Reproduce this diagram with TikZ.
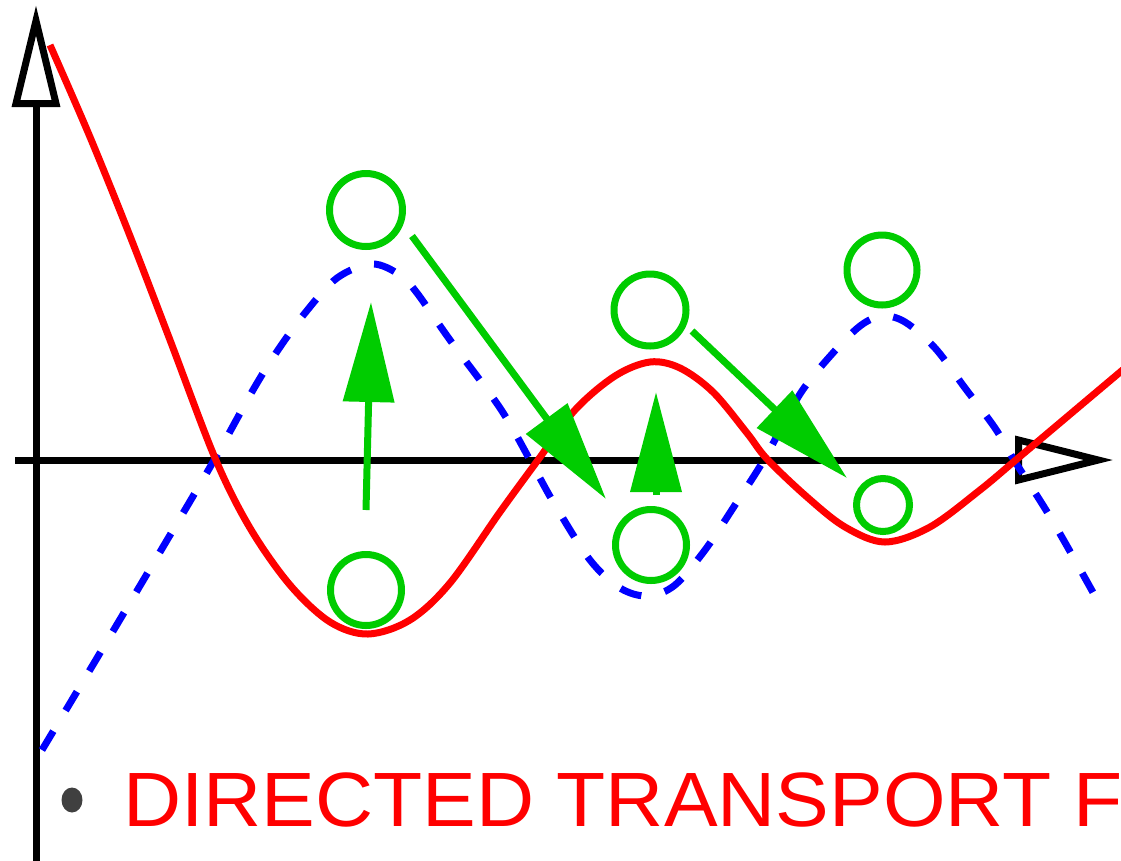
\documentclass[tikz,border=0pt]{standalone}
\usepackage{fontspec}
\usepackage{graphicx}
\setmainfont{Liberation Sans}
\usetikzlibrary{arrows.meta}
\definecolor{gr}{RGB}{0,204,0}
\definecolor{bulletgray}{RGB}{64,64,64}
\begin{document}
\begin{tikzpicture}[x=1pt,y=-1pt,
  axis/.style={line width=7pt, black},
  axhead/.style={line width=7pt, draw=black, fill=white, line join=miter},
  redcurve/.style={line width=7pt, red},
  bluecurve/.style={line width=7pt, blue, dash pattern=on 22pt off 24pt},
  ring/.style={line width=7pt, draw=gr, circle, inner sep=0pt, minimum size=#1},
  garrow/.style={line width=7pt, gr, -{Triangle[length=100pt,width=50pt]}},
  caption/.style={text=red, font=\fontsize{77}{90}\selectfont, anchor=base west, inner sep=0pt},
]
\useasboundingbox (0,0) rectangle (1121,860);
\clip (0,0) rectangle (1121,860);
\fill[white] (0,0) rectangle (1121,860);

% axes
\coordinate (ybot) at (36,870);
\coordinate (ytop) at (36,103.5);
\coordinate (xleft) at (15,460);
\coordinate (xright) at (1018.5,460);
\draw[axis] (ybot) -- (ytop);
\draw[axis] (xleft) -- (xright);
\draw[axhead] (16,103.5) -- (36,20.7) -- (56,103.5) -- cycle;
\draw[axhead] (1018.5,440) -- (1098.3,460) -- (1018.5,480) -- cycle;

% blue dashed curve
\draw[bluecurve] plot[smooth, tension=0.55] coordinates {
  (42,750) (100,653) (160,552) (213,462) (253,390) (278,350) (305,313)
  (337,278) (372,264) (400,275) (417,293) (450,340) (500,408) (530,460)
  (555,505) (590,560) (620,588) (648,596) (675,585) (705,550) (735,505)
  (765,458) (800,394) (832,354) (860,326) (882,316) (905,322) (935,348)
  (965,388) (995,428) (1014,460) (1052,520) (1100,605)};

% red curve
\draw[redcurve] plot[smooth, tension=0.55] coordinates {
  (50,45) (90,137) (130,236) (170,340) (215,458) (250,528) (290,585)
  (330,622) (368,634) (410,620) (450,583) (500,512) (538,460) (575,410)
  (615,376) (650,362) (680,368) (713,392) (747,433) (767,459) (807,497)
  (845,527) (885,542) (930,527) (980,490) (1017,459) (1087,400) (1125,368)};

% green rings
\node[ring=73] (c1) at (366,210) {};
\node[ring=71] (c2) at (366,590) {};
\node[ring=72] (c3) at (650,310) {};
\node[ring=71] (c4) at (651,545) {};
\node[ring=70] (c5) at (882,270) {};
\node[ring=53] (c6) at (883,505) {};

% green arrows
\coordinate (a1s) at (366,510);
\coordinate (a1e) at (371,302);
\coordinate (a2s) at (412,236);
\coordinate (a2e) at (606,499);
\coordinate (a3s) at (656,495);
\coordinate (a3e) at (656,392);
\coordinate (a4s) at (692,331);
\coordinate (a4e) at (847,478);
\draw[garrow] (a1s) -- (a1e);
\draw[garrow] (a2s) -- (a2e);
\draw[garrow] (a3s) -- (a3e);
\draw[garrow] (a4s) -- (a4e);

% bullet and caption
\fill[bulletgray] (72,800) ellipse [x radius=10.5, y radius=12.5];
\node[caption] (cap) at (123,826) {\scalebox{1.045}[1]{DIRECTED TRANSPORT FR}};
\end{tikzpicture}
\end{document}
